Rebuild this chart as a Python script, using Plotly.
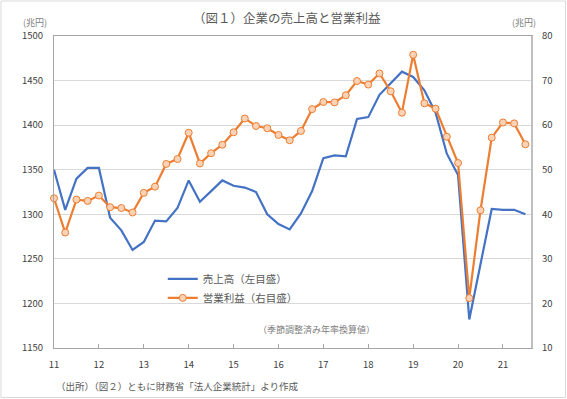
import plotly.graph_objects as go

# Quarterly data 2011Q1 .. 2021Q3
quarter_index = list(range(43))
sales = [1350, 1305, 1340, 1352, 1352, 1296, 1282, 1260, 1269, 1293, 1292, 1307,
         1338, 1314, 1326, 1338, 1332, 1330, 1325, 1300, 1289, 1283, 1301, 1326,
         1363, 1366, 1365, 1407, 1409, 1434, 1447, 1460, 1454, 1439, 1414, 1368,
         1344, 1182, 1244, 1306, 1305, 1305, 1300]
profit = [43.6, 35.9, 43.3, 43.0, 44.2, 41.6, 41.4, 40.4, 44.8, 46.2, 51.3, 52.4,
          58.3, 51.4, 53.7, 55.6, 58.4, 61.5, 59.8, 59.3, 57.8, 56.6, 58.7, 63.6,
          65.2, 65.1, 66.7, 69.9, 69.1, 71.6, 67.6, 62.8, 75.8, 64.9, 63.7, 57.4,
          51.5, 21.2, 40.9, 57.2, 60.6, 60.4, 55.7]
year_tick_pos = [0, 4, 8, 12, 16, 20, 24, 28, 32, 36, 40]
year_labels = ["11", "12", "13", "14", "15", "16", "17", "18", "19", "20", "21"]
left_ticks = [1150, 1200, 1250, 1300, 1350, 1400, 1450, 1500]
right_ticks = [10, 20, 30, 40, 50, 60, 70, 80]

FONT = "Noto Sans CJK JP"
GRAY = "#595959"

fig = go.Figure()
fig.add_trace(go.Scatter(
    x=quarter_index, y=sales, mode="lines", name="売上高（左目盛）",
    line=dict(color="#4472C4", width=2.2), yaxis="y", cliponaxis=False))
fig.add_trace(go.Scatter(
    x=quarter_index, y=profit, mode="lines+markers", name="営業利益（右目盛）",
    line=dict(color="#ED7D31", width=2.2),
    marker=dict(symbol="circle", size=7, color="#FAD3B6",
                line=dict(color="#ED7D31", width=1)),
    yaxis="y2", cliponaxis=False))

fig.update_layout(
    width=567, height=399,
    margin=dict(l=54, r=36, t=36, b=51),
    paper_bgcolor="white", plot_bgcolor="white",
    font=dict(family=FONT, color=GRAY, size=10),
    showlegend=True,
    legend=dict(x=0.228, y=0.268, xanchor="left", yanchor="top",
                bgcolor="rgba(0,0,0,0)", font=dict(size=10.5, color=GRAY),
                tracegroupgap=0, itemwidth=30),
    xaxis=dict(range=[0, 42.5], tickvals=year_tick_pos, ticktext=year_labels,
               showgrid=False, zeroline=False, showline=True, mirror=True,
               linecolor="#A6A6A6", linewidth=1,
               ticks="inside", ticklen=4, tickcolor="#A6A6A6",
               tickfont=dict(size=9.5, color="#404040"), ticklabelstandoff=8),
    yaxis=dict(range=[1150, 1500], tickvals=left_ticks, showgrid=True,
               gridcolor="#D9D9D9", gridwidth=1, zeroline=False,
               showline=True, linecolor="#A6A6A6", linewidth=1, ticks="",
               tickfont=dict(size=9.5, color="#404040"), ticklabelstandoff=8),
    yaxis2=dict(range=[10, 80], tickvals=right_ticks, overlaying="y", side="right",
                showgrid=False, zeroline=False, showline=True,
                linecolor="#BFBFBF", linewidth=2, ticks="",
                tickfont=dict(size=9.5, color="#404040"), ticklabelstandoff=7),
)

def px_x(p):
    return (p - 54) / 477.0

def px_y(p):
    return (348 - p) / 312.0

annotations = [
    dict(text="（図１）企業の売上高と営業利益", x=px_x(287), y=px_y(18),
         font=dict(size=12.5, color=GRAY)),
    dict(text="(兆円)", x=px_x(35), y=px_y(23), font=dict(size=9, color="#808080")),
    dict(text="(兆円)", x=px_x(524), y=px_y(23), font=dict(size=9, color="#808080")),
    dict(text="（季節調整済み年率換算値）", x=px_x(316), y=px_y(329),
         font=dict(size=9, color="#808080")),
    dict(text="（出所）（図２）ともに財務省「法人企業統計」より作成", x=px_x(54), y=px_y(386),
         xanchor="left", font=dict(size=9.5, color=GRAY)),
]
for a in annotations:
    a.setdefault("xanchor", "center")
    a.update(xref="paper", yref="paper", yanchor="middle", showarrow=False)
fig.update_layout(annotations=annotations)

fig.add_shape(type="rect", xref="paper", yref="paper",
              x0=px_x(1), x1=px_x(565.5), y0=px_y(1), y1=px_y(397.5),
              line=dict(color="#D9D9D9", width=1), layer="below")

fig.write_html(
    "out.html",
    config={"displayModeBar": False},
    post_script="document.body.style.margin='0';document.body.style.overflow='hidden';",
)
